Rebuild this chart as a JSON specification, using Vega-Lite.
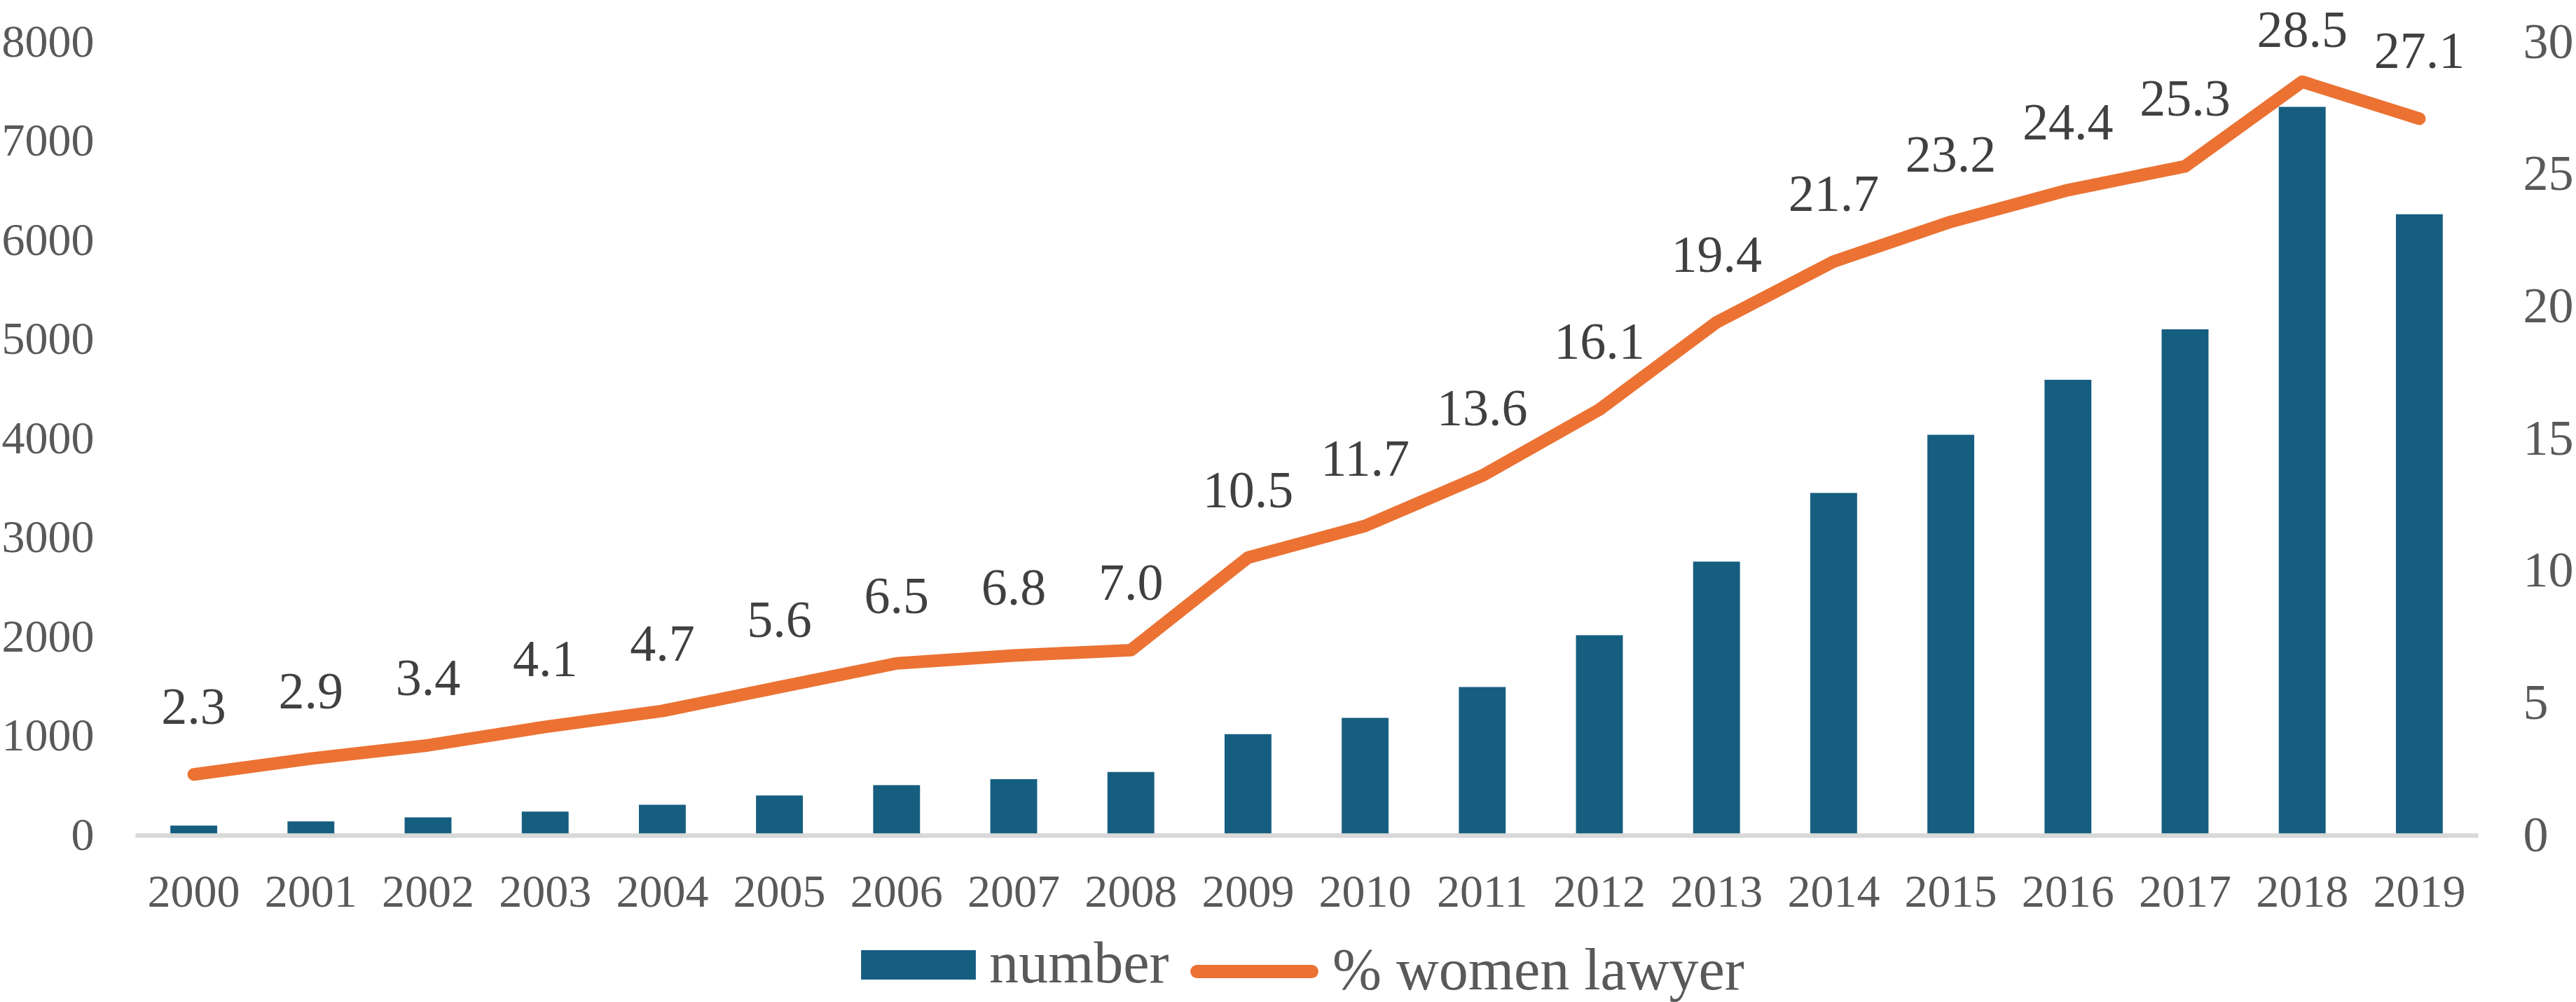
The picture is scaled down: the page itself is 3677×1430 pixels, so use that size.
{
  "$schema": "https://vega.github.io/schema/vega-lite/v6.json",
  "width": 3344,
  "height": 1132,
  "autosize": {"type": "none"},
  "padding": {"left": 193, "top": 60, "right": 140, "bottom": 238},
  "background": "white",
  "data": {
    "values": [
      {"year": "2000", "number": 98, "pct": 2.3},
      {"year": "2001", "number": 139, "pct": 2.9},
      {"year": "2002", "number": 180, "pct": 3.4},
      {"year": "2003", "number": 238, "pct": 4.1},
      {"year": "2004", "number": 308, "pct": 4.7},
      {"year": "2005", "number": 401, "pct": 5.6},
      {"year": "2006", "number": 506, "pct": 6.5},
      {"year": "2007", "number": 566, "pct": 6.8},
      {"year": "2008", "number": 638, "pct": 7.0},
      {"year": "2009", "number": 1020, "pct": 10.5},
      {"year": "2010", "number": 1184, "pct": 11.7},
      {"year": "2011", "number": 1495, "pct": 13.6},
      {"year": "2012", "number": 2017, "pct": 16.1},
      {"year": "2013", "number": 2760, "pct": 19.4},
      {"year": "2014", "number": 3453, "pct": 21.7},
      {"year": "2015", "number": 4039, "pct": 23.2},
      {"year": "2016", "number": 4594, "pct": 24.4},
      {"year": "2017", "number": 5103, "pct": 25.3},
      {"year": "2018", "number": 7347, "pct": 28.5},
      {"year": "2019", "number": 6264, "pct": 27.1}
    ]
  },
  "encoding": {
    "x": {
      "field": "year",
      "type": "ordinal",
      "scale": {"paddingInner": 0.6, "paddingOuter": 0.3},
      "axis": {
        "title": null,
        "labelAngle": 0,
        "labelFontSize": 66,
        "labelPadding": 49,
        "domain": true,
        "domainColor": "#D9D9D9",
        "domainWidth": 6.5,
        "zindex": 1
      }
    }
  },
  "layer": [
    {
      "mark": {"type": "bar"},
      "encoding": {
        "y": {
          "field": "number",
          "type": "quantitative",
          "scale": {"domain": [0, 8000], "nice": false},
          "axis": {
            "orient": "left",
            "title": null,
            "values": [0, 1000, 2000, 3000, 4000, 5000, 6000, 7000, 8000],
            "format": "d",
            "labelFontSize": 66,
            "labelPadding": 59
          }
        },
        "fill": {
          "datum": "number",
          "type": "nominal",
          "scale": {"domain": ["number"], "range": ["#165E80"]},
          "legend": {
            "orient": "none",
            "legendX": 1027,
            "legendY": 1226,
            "title": null,
            "padding": 0,
            "symbolType": "M-0.9,-0.23H0.9V0.23H-0.9Z",
            "symbolSize": 33124,
            "symbolStrokeWidth": 0,
            "labelFont": "Liberation Serif",
            "labelFontSize": 84,
            "labelColor": "#595959",
            "labelLimit": 900,
            "labelOffset": 10
          }
        }
      }
    },
    {
      "encoding": {
        "y": {
          "field": "pct",
          "type": "quantitative",
          "scale": {"domain": [0, 30], "nice": false},
          "axis": {
            "orient": "right",
            "title": null,
            "values": [0, 5, 10, 15, 20, 25, 30],
            "labelFontSize": 72,
            "labelPadding": 64
          }
        }
      },
      "layer": [
        {
          "mark": {"type": "line", "strokeWidth": 18, "strokeCap": "round", "strokeJoin": "round"},
          "encoding": {
            "stroke": {
              "datum": "% women lawyer",
              "type": "nominal",
              "scale": {"domain": ["% women lawyer"], "range": ["#EB7233"]},
              "legend": {
                "orient": "none",
                "legendX": 1497,
                "legendY": 1226,
                "title": null,
                "padding": 0,
                "symbolType": "M-0.9,0H0.9",
                "symbolSize": 33124,
                "symbolStrokeWidth": 19,
                "labelFont": "Liberation Serif",
                "labelFontSize": 84,
                "labelColor": "#595959",
                "labelLimit": 900,
                "labelOffset": 11,
                "encode": {
                  "symbols": {"update": {"strokeCap": {"value": "round"}}}
                }
              }
            }
          }
        },
        {
          "mark": {
            "type": "text",
            "font": "Liberation Serif",
            "fontSize": 74,
            "color": "#404040",
            "baseline": "middle",
            "dy": {"expr": "datum.pct > 28 ? -72 : -94"}
          },
          "encoding": {
            "text": {"field": "pct", "type": "quantitative", "format": ".1f"}
          }
        }
      ]
    }
  ],
  "resolve": {"scale": {"y": "independent"}},
  "config": {
    "view": {"stroke": null},
    "axis": {
      "grid": false,
      "ticks": false,
      "tickSize": 0,
      "domain": false,
      "labelFont": "Liberation Serif",
      "labelColor": "#595959"
    }
  }
}
